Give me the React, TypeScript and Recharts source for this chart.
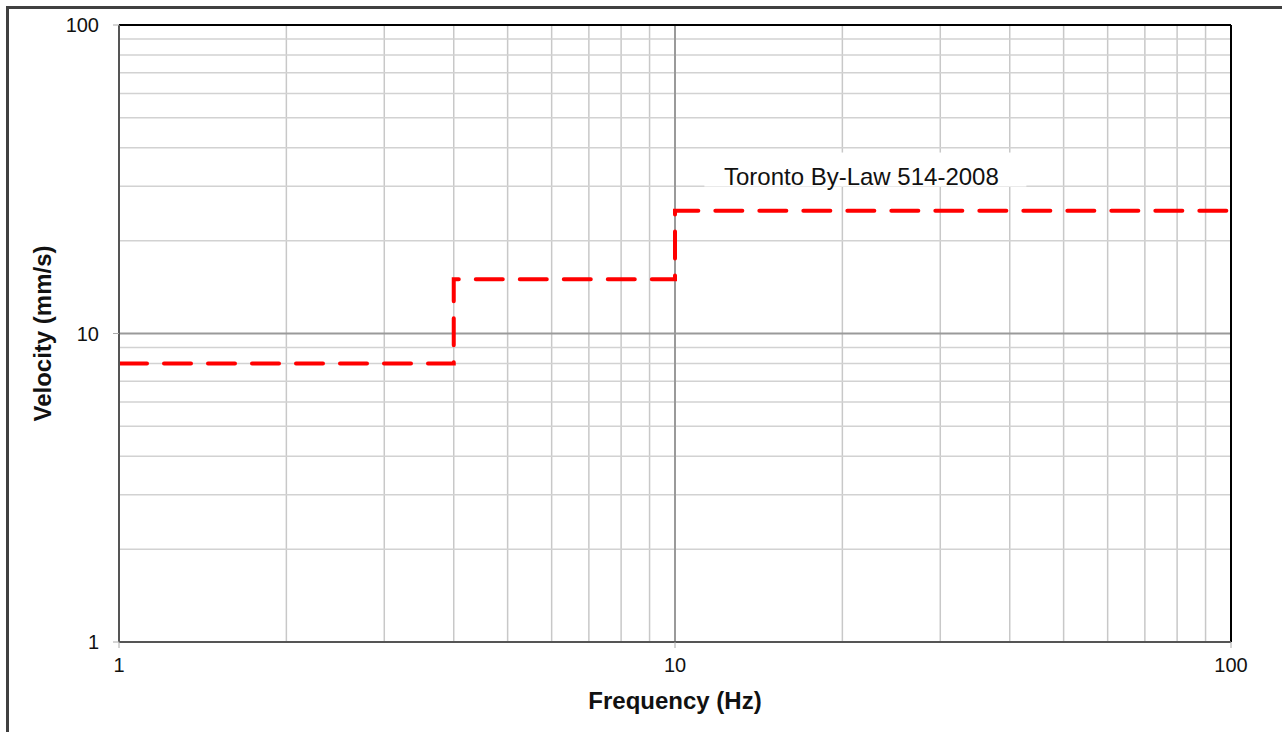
import React from 'react';
import {
  LineChart, Line, XAxis, YAxis, ReferenceLine, ReferenceDot,
} from 'recharts';

// step limit: velocity (mm/s) from each frequency (Hz) onward
const frequency = [1, 4, 10, 100];
const velocity = [8, 15, 25, 25];

const axisTicks = [1, 10, 100];
const minorGrid = [2, 3, 4, 5, 6, 7, 8, 9, 20, 30, 40, 50, 60, 70, 80, 90];
const majorGrid = [10];

const seriesName = 'Toronto By-Law 514-2008';
const labelAt = { f: 22, v: 34 };

const data = frequency.map((f, i) => ({ f, v: velocity[i] }));

const FONT = '"Liberation Sans", Arial, sans-serif';

function NameBox(props: any) {
  const { cx, cy } = props;
  if (cx == null || cy == null) return null;
  return (
    <g>
      <rect x={cx - 161} y={cy - 17} width={322} height={34} fill="#fff" />
      <text x={cx - 4} y={cy + 15} textAnchor="middle" fontSize={24} fill="#111" fontFamily={FONT}>
        {seriesName}
      </text>
    </g>
  );
}

export default function App() {
  return (
    <div style={{ position: 'fixed', left: 0, top: 0, width: 1282, height: 732, background: '#fff', fontFamily: FONT }}>
      <div
        style={{
          position: 'absolute', left: 6, top: 6, right: 0, bottom: 0,
          borderLeft: '3px solid #404040', borderTop: '3px solid #404040',
        }}
      />
      <div style={{ position: 'absolute', left: 0, top: 0 }}>
        <LineChart width={1282} height={732} data={data} margin={{ top: 25, right: 51, left: 0, bottom: 0 }}>
          {minorGrid.map((g) => (
            <ReferenceLine key={'vx' + g} x={g} stroke="#c8c8c8" strokeWidth={1.5} />
          ))}
          {minorGrid.map((g) => (
            <ReferenceLine key={'hy' + g} y={g} stroke="#d2d2d2" strokeWidth={1.5} />
          ))}
          {majorGrid.map((g) => (
            <ReferenceLine key={'mx' + g} x={g} stroke="#9a9a9a" strokeWidth={2} />
          ))}
          {majorGrid.map((g) => (
            <ReferenceLine key={'my' + g} y={g} stroke="#9a9a9a" strokeWidth={2} />
          ))}
          <ReferenceLine y={100} stroke="#000" strokeWidth={2} />
          <ReferenceLine x={100} stroke="#000" strokeWidth={2} />
          <XAxis
            dataKey="f"
            type="number"
            scale="log"
            domain={[1, 100]}
            ticks={axisTicks}
            height={90}
            tickSize={6}
            tickMargin={10}
            axisLine={{ stroke: '#555', strokeWidth: 2 }}
            tickLine={{ stroke: '#aaa' }}
            tick={{ fontSize: 20, fill: '#111', fontFamily: FONT }}
            label={{
              value: 'Frequency (Hz)',
              content: ({ viewBox }: any) => (
                <text
                  x={viewBox.x + viewBox.width / 2}
                  y={viewBox.y + 67}
                  textAnchor="middle"
                  fontSize={24}
                  fontWeight="bold"
                  fill="#111"
                  fontFamily={FONT}
                >
                  Frequency (Hz)
                </text>
              ),
            }}
          />
          <YAxis
            dataKey="v"
            type="number"
            scale="log"
            domain={[1, 100]}
            ticks={axisTicks}
            width={119}
            tickSize={6}
            tickMargin={14}
            axisLine={{ stroke: '#555', strokeWidth: 2 }}
            tickLine={{ stroke: '#aaa' }}
            tick={{ fontSize: 20, fill: '#111', fontFamily: FONT }}
            label={{
              value: 'Velocity (mm/s)',
              content: ({ viewBox }: any) => {
                const x = viewBox.x + 51;
                const y = viewBox.y + viewBox.height / 2;
                return (
                  <text
                    x={x}
                    y={y}
                    transform={`rotate(-90, ${x}, ${y})`}
                    textAnchor="middle"
                    fontSize={24}
                    fontWeight="bold"
                    fill="#111"
                    fontFamily={FONT}
                  >
                    Velocity (mm/s)
                  </text>
                );
              },
            }}
          />
          <Line
            dataKey="v"
            type="stepAfter"
            stroke="#ff0000"
            strokeWidth={4}
            strokeDasharray="27 17"
            strokeDashoffset={-1}
            strokeLinecap="round"
            dot={false}
            activeDot={false}
            isAnimationActive={false}
          />
          <ReferenceDot x={labelAt.f} y={labelAt.v} r={0} shape={NameBox} />
        </LineChart>
      </div>
    </div>
  );
}
